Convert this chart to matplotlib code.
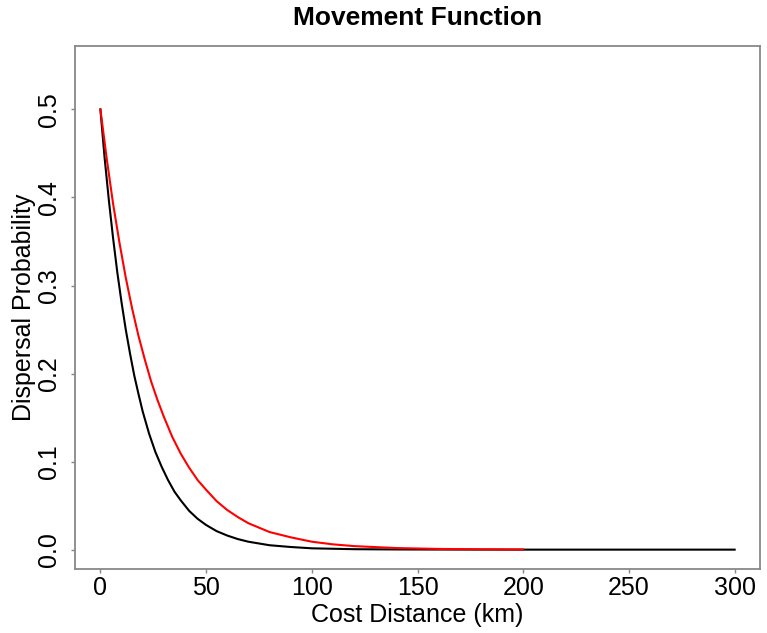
import matplotlib
matplotlib.use("Agg")
import matplotlib.pyplot as plt

plt.rcParams['font.family'] = ['Liberation Sans', 'DejaVu Sans']

# Values
black_x = [0, 2, 4, 6, 8, 10, 12, 14, 16, 18, 20, 23, 26, 29, 32, 35, 38, 42,
           46, 50, 55, 60, 65, 70, 80, 90, 100, 120, 140, 160, 200, 250, 300]
black_y = [0.5, 0.445, 0.397, 0.354, 0.315, 0.281, 0.250, 0.223, 0.198, 0.177,
           0.157, 0.132, 0.111, 0.094, 0.079, 0.066, 0.056, 0.044, 0.035,
           0.028, 0.021, 0.016, 0.012, 0.009, 0.005, 0.003, 0.0015, 0.0005,
           0.0002, 0.0001, 0.0, 0.0, 0.0]
red_x = [0, 3, 6, 9, 12, 15, 18, 21, 24, 27, 30, 34, 38, 42, 46, 50, 55, 60,
         65, 70, 80, 90, 100, 110, 120, 140, 160, 180, 200]
red_y = [0.5, 0.444, 0.393, 0.349, 0.309, 0.274, 0.243, 0.216, 0.191, 0.170,
         0.151, 0.128, 0.109, 0.093, 0.079, 0.068, 0.055, 0.045, 0.037, 0.030,
         0.020, 0.014, 0.009, 0.006, 0.004, 0.0018, 0.0008, 0.0004, 0.0002]
x_ticks = [0, 50, 100, 150, 200, 250, 300]
y_ticks = [0.0, 0.1, 0.2, 0.3, 0.4, 0.5]

fig = plt.figure(figsize=(7.67, 6.33), dpi=100)
ax = fig.add_axes([0.0978, 0.1011, 0.8931, 0.8262])

ax.plot(black_x, black_y, color='black', lw=1.5)
ax.plot(red_x, red_y, color='red', lw=1.5)

ax.set_xlim(-12, 312)
ax.set_ylim(-0.022, 0.572)
ax.set_xticks(x_ticks)
ax.set_yticks(y_ticks)
ax.set_xticklabels([str(v) for v in x_ticks])
ax.set_yticklabels(["%.1f" % v for v in y_ticks], rotation=90, va='center')

for s in ax.spines.values():
    s.set_color('#888888')
    s.set_linewidth(1.3)

ax.tick_params(axis='both', colors='#888888', labelcolor='black',
               labelsize=18, length=3, width=1)
ax.tick_params(axis='x', pad=2)
ax.tick_params(axis='y', pad=7)

ax.set_xlabel("Cost Distance (km)", fontsize=18, labelpad=2)
ax.set_ylabel("Dispersal Probability", fontsize=18, labelpad=1)
ax.set_title("Movement Function", fontsize=19, fontweight='bold', pad=15)

fig.savefig("out.png", dpi=100)
